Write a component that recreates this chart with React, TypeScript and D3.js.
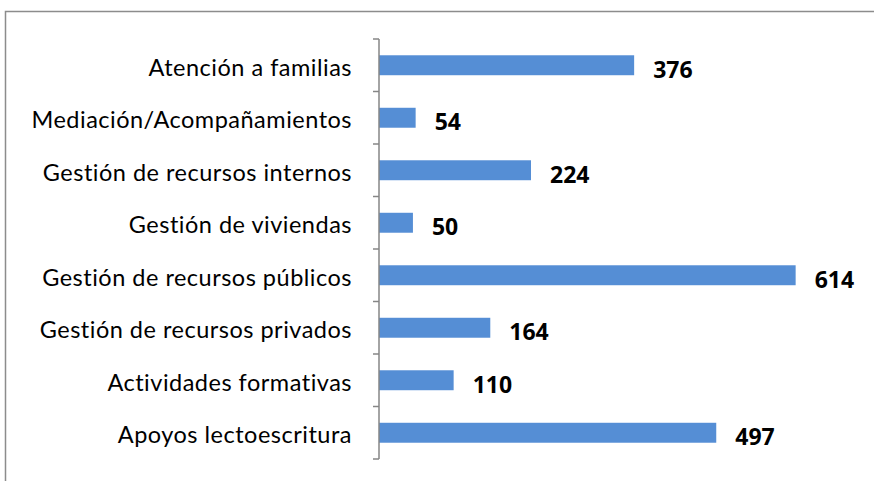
import React from "react";
import * as d3 from "d3";

const categories = [
  "Atención a familias",
  "Mediación/Acompañamientos",
  "Gestión de recursos internos",
  "Gestión de viviendas",
  "Gestión de recursos públicos",
  "Gestión de recursos privados",
  "Actividades formativas",
  "Apoyos lectoescritura",
];
const values = [376, 54, 224, 50, 614, 164, 110, 497];

export default function App() {
  const W = 874, H = 481;
  const x = d3.scaleLinear().domain([0, 700]).range([379, 854]);
  const y = d3.scaleBand<string>().domain(categories).range([39, 459]).paddingInner(0.62).paddingOuter(0.31);
  const bounds = d3.range(categories.length + 1).map((i) => 39 + (i * 420) / categories.length);
  return (
    <svg width={W} height={H} style={{ position: "absolute", left: 0, top: 0, background: "#fff" }}>
      <rect x={5.5} y={11.5} width={900} height={500} fill="none" stroke="#8c8c8c" strokeWidth={1.5} />
      {categories.map((c, i) => {
        const cy = (y(c) as number) + y.bandwidth() / 2;
        return (
          <g key={c}>
            <rect x={x(0)} y={y(c)} width={x(values[i]) - x(0)} height={y.bandwidth()} fill="#558ed5" />
            <text
              x={x(values[i]) + 19}
              y={cy + 12.5}
              fontFamily="'Open Sans', sans-serif"
              fontWeight="bold"
              fontSize={23}
              fill="#000"
            >
              {values[i]}
            </text>
            <text
              x={352}
              y={cy + 10.5}
              textAnchor="end"
              fontFamily="Lato, sans-serif"
              fontSize={23.5}
              letterSpacing={0.5}
              fill="#000"
            >
              {c}
            </text>
          </g>
        );
      })}
      <line x1={379} x2={379} y1={39} y2={459} stroke="#868686" strokeWidth={1.5} />
      {bounds.map((b, i) => (
        <line key={i} x1={373} x2={379} y1={b} y2={b} stroke="#868686" strokeWidth={1.5} />
      ))}
    </svg>
  );
}
